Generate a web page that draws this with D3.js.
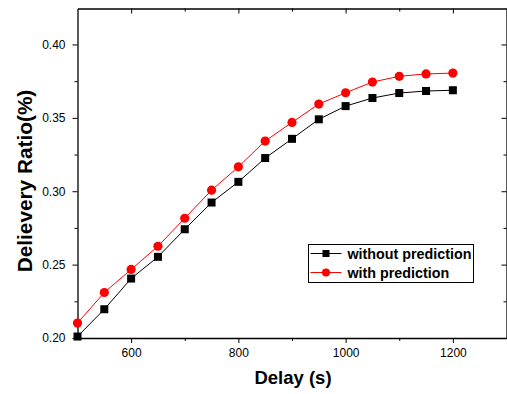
<!DOCTYPE html>
<html>
<head>
<meta charset="utf-8">
<script src="https://cdn.jsdelivr.net/npm/d3@7"></script>
<style>
  body { margin: 0; background: #fff; }
  text { font-family: Arial, "Liberation Sans", sans-serif; }
</style>
</head>
<body>
<div id="chart"></div>
<script>
const width = 507;
const height = 394;
const margin = { top: 8.5, right: 0.5, bottom: 56, left: 77.5 };

// data
const delays = [500, 550, 600, 650, 700, 750, 800, 850, 900, 950, 1000, 1050, 1100, 1150, 1200];
const withoutPrediction = [0.201, 0.2196, 0.2405, 0.2553, 0.2741, 0.2923, 0.3064, 0.3226, 0.3357, 0.349, 0.358, 0.3635, 0.3669, 0.3683, 0.3688];
const withPrediction = [0.2102, 0.231, 0.2467, 0.2625, 0.2816, 0.3007, 0.3166, 0.3342, 0.3469, 0.3594, 0.3671, 0.3744, 0.3783, 0.3799, 0.3805];
const xTicks = [600, 800, 1000, 1200];
const xMinor = [700, 900, 1100];
const yTicks = [0.20, 0.25, 0.30, 0.35, 0.40];
const yMinor = [0.225, 0.275, 0.325, 0.375];
const seriesNames = ["without prediction", "with prediction"];

const svg = d3.select("#chart").append("svg")
  .attr("width", width)
  .attr("height", height);

const x = d3.scaleLinear().domain([500, 1300]).range([margin.left, width - margin.right]);
const y = d3.scaleLinear().domain([0.2, 0.4245]).range([height - margin.bottom, margin.top]);

const x0 = x.range()[0], x1 = x.range()[1];
const y0 = y.range()[0], y1 = y.range()[1];

// axes: bottom/left ticks outward, top/right ticks inward
function drawAxis(axis, tr) {
  return svg.append("g").attr("transform", tr).call(axis)
    .call(g => g.select(".domain").attr("stroke", "#000").attr("stroke-width", 1.3));
}

function minorTicks(axis, tr) {
  svg.append("g").attr("transform", tr).call(axis.tickSize(3).tickSizeOuter(0).tickFormat(""))
    .call(g => g.select(".domain").remove());
}

const bottom = drawAxis(d3.axisBottom(x).tickValues(xTicks).tickFormat(d3.format("d"))
  .tickSize(5).tickSizeOuter(0).tickPadding(5), `translate(0,${y0})`);
bottom.selectAll("text").attr("font-size", 12).attr("fill", "#000");
minorTicks(d3.axisBottom(x).tickValues(xMinor), `translate(0,${y0})`);

const left = drawAxis(d3.axisLeft(y).tickValues(yTicks).tickFormat(d3.format(".2f"))
  .tickSize(5).tickSizeOuter(0).tickPadding(7), `translate(${x0},0)`);
left.selectAll("text").attr("font-size", 12).attr("fill", "#000");
minorTicks(d3.axisLeft(y).tickValues(yMinor), `translate(${x0},0)`);

drawAxis(d3.axisBottom(x).tickValues(xTicks).tickSize(5).tickSizeOuter(0).tickFormat(""), `translate(0,${y1})`);
minorTicks(d3.axisBottom(x).tickValues(xMinor), `translate(0,${y1})`);

drawAxis(d3.axisLeft(y).tickValues(yTicks).tickSize(5).tickSizeOuter(0).tickFormat(""), `translate(${x1},0)`);
minorTicks(d3.axisLeft(y).tickValues(yMinor), `translate(${x1},0)`);

// axis titles
svg.append("text")
  .attr("x", 293)
  .attr("y", 384)
  .attr("text-anchor", "middle")
  .attr("font-size", 18.5)
  .attr("font-weight", "bold")
  .text("Delay (s)");

svg.append("text")
  .attr("transform", `translate(32,181) rotate(-90)`)
  .attr("text-anchor", "middle")
  .attr("font-size", 20.8)
  .attr("font-weight", "bold")
  .text("Delievery Ratio(%)");

// series
const line = d3.line().x((d, i) => x(delays[i])).y(d => y(d));

svg.append("path").datum(withoutPrediction)
  .attr("fill", "none").attr("stroke", "#000").attr("stroke-width", 1)
  .attr("d", line);
svg.append("path").datum(withPrediction)
  .attr("fill", "none").attr("stroke", "#ff0000").attr("stroke-width", 1)
  .attr("d", line);

const sq = 8;
svg.append("g").selectAll("rect").data(withoutPrediction).enter().append("rect")
  .attr("x", (d, i) => x(delays[i]) - sq / 2)
  .attr("y", d => y(d) - sq / 2)
  .attr("width", sq).attr("height", sq)
  .attr("fill", "#000");

svg.append("g").selectAll("circle").data(withPrediction).enter().append("circle")
  .attr("cx", (d, i) => x(delays[i]))
  .attr("cy", d => y(d))
  .attr("r", 4.6)
  .attr("fill", "#ff0000");

// legend
const lg = svg.append("g").attr("transform", "translate(308.5,244.5)");
lg.append("rect").attr("width", 165).attr("height", 38)
  .attr("fill", "#fff").attr("stroke", "#000").attr("stroke-width", 1);

const rows = lg.selectAll("g").data(seriesNames).enter().append("g")
  .attr("transform", (d, i) => `translate(0,${9 + i * 19})`);
rows.append("line").attr("x1", 2).attr("x2", 33)
  .attr("stroke", (d, i) => i === 0 ? "#000" : "#ff0000");
rows.filter((d, i) => i === 0).append("rect")
  .attr("x", 14).attr("y", -3.5).attr("width", 7).attr("height", 7).attr("fill", "#000");
rows.filter((d, i) => i === 1).append("circle")
  .attr("cx", 17.5).attr("r", 4).attr("fill", "#ff0000");
rows.append("text").attr("x", 39).attr("y", 5)
  .attr("font-size", 14.3).attr("font-weight", "bold")
  .text(d => d);
</script>
</body>
</html>
